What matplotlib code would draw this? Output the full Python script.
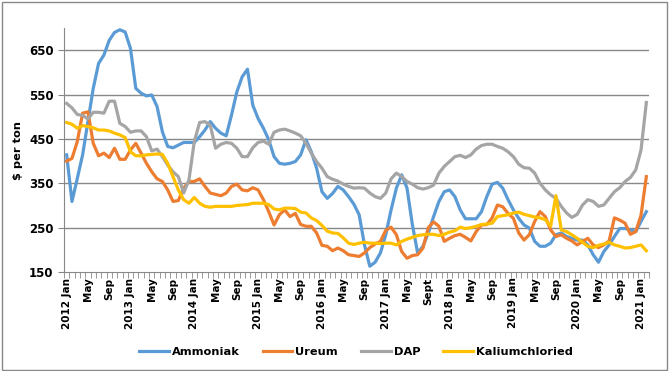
import matplotlib
matplotlib.use('Agg')
import matplotlib.pyplot as plt
from matplotlib.patches import Rectangle
import numpy as np

# maandprijzen jan 2012 - feb 2021, $ per ton
ammoniak = [414, 309, 361, 414, 489, 564, 620, 639, 672, 690, 696, 691, 654, 564, 553, 547, 549, 523, 466, 433, 430, 436, 442, 442, 442, 455, 470,
            489, 474, 463, 457, 504, 556, 590, 607, 526, 496, 474, 448, 410, 395, 393, 395, 399, 414, 448, 421, 384, 331, 316, 327, 343, 335, 320, 303,
            279, 211, 163, 172, 193, 234, 290, 339, 369, 339, 257, 193, 208, 238, 275, 309, 331, 335, 320, 290, 270, 270, 270, 286, 320, 348, 352,
            339, 313, 290, 271, 256, 249, 219, 208, 208, 215, 234, 238, 230, 226, 222, 222, 211, 189, 172, 196, 211, 230, 248, 248, 245, 241, 264, 286]
ureum = [400, 406, 444, 508, 511, 440, 412, 418, 408, 429, 404, 404, 425, 440, 418, 395, 376, 360, 354, 335, 309, 311, 339, 354, 354, 360, 343,
         328, 325, 322, 328, 343, 348, 335, 333, 340, 335, 313, 286, 256, 279, 290, 275, 282, 257, 253, 253, 238, 210, 208, 198, 204, 198, 189, 187,
         185, 193, 205, 213, 219, 244, 251, 234, 196, 181, 187, 189, 204, 250, 263, 253, 219, 226, 232, 235, 228, 220, 241, 256, 257, 272, 301,
         297, 282, 271, 238, 222, 234, 264, 286, 275, 245, 230, 234, 226, 220, 211, 219, 226, 211, 205, 211, 220, 272, 267, 260, 235, 241, 278, 365]
dap = [530, 520, 505, 503, 495, 510, 510, 508, 535, 535, 485, 478, 465, 468, 468, 455, 423, 427, 410, 391, 376, 365, 328, 358, 444, 487, 489,
       481, 429, 438, 442, 440, 429, 410, 410, 430, 442, 445, 438, 465, 470, 472, 468, 463, 457, 440, 418, 399, 384, 365, 359, 355, 348, 343, 339,
       340, 339, 328, 320, 316, 328, 360, 373, 365, 354, 348, 340, 337, 340, 346, 373, 388, 399, 410, 413, 408, 414, 427, 435, 438, 438, 433,
       429, 421, 410, 393, 385, 384, 373, 350, 335, 324, 316, 298, 283, 273, 280, 301, 313, 309, 298, 301, 316, 331, 340, 354, 363, 380, 425, 532]
kaliumchloried = [487, 483, 474, 480, 478, 475, 470, 470, 468, 463, 459, 453, 421, 412, 412, 414, 415, 416, 415, 395, 365, 335, 313, 305, 318, 305, 298,
                  296, 298, 298, 298, 298, 300, 301, 302, 305, 305, 305, 302, 292, 290, 294, 294, 293, 285, 283, 272, 266, 255, 242, 238, 237, 227, 215, 212,
                  215, 217, 215, 215, 214, 215, 215, 211, 219, 224, 228, 232, 234, 235, 235, 232, 235, 240, 243, 251, 248, 250, 253, 257, 258, 260, 275,
                  277, 279, 283, 285, 280, 277, 274, 272, 268, 253, 322, 245, 241, 234, 226, 217, 208, 205, 210, 213, 217, 211, 208, 204, 205, 208, 211, 198]

tick_labels = ['2012 Jan', 'May', 'Sep', '2013 Jan', 'May', 'Sep', '2014 Jan', 'May', 'Sep',
               '2015 Jan', 'May', 'Sep', '2016 Jan', 'May', 'Sep', '2017 Jan', 'May', 'Sept',
               '2018 Jan', 'May', 'Sep', '2019 Jan', 'May', 'Sep', '2020 Jan', 'May', 'Sep', '2021 Jan']

x = np.arange(len(ammoniak))
fs = 7.5

fig = plt.figure(figsize=(6.7, 3.71), dpi=100)
ax = fig.add_axes([64/670, 1-272/371, 585/670, 244/371])

ax.plot(x, ammoniak, color='#5B9BD5', lw=2.3, label='Ammoniak')
ax.plot(x, ureum, color='#ED7D31', lw=2.3, label='Ureum')
ax.plot(x, dap, color='#A5A5A5', lw=2.3, label='DAP')
ax.plot(x, kaliumchloried, color='#FFC000', lw=2.3, label='Kaliumchloried')

ax.set_xlim(-0.5, len(x) - 0.5)
ax.set_ylim(150, 700)
ax.set_yticks(range(150, 651, 100))
for t in range(250, 651, 100):
    ax.axhline(t, color='#888888', lw=1, zorder=0)

ax.set_xticks(range(0, len(x), 4))
ax.set_xticklabels(tick_labels, rotation=90, fontsize=fs, fontweight='bold')
ax.set_xticks(np.arange(-0.5, len(x), 1), minor=True)
ax.tick_params(axis='x', which='major', length=0, pad=4)
ax.tick_params(axis='x', which='minor', length=4, color='#888888')
ax.tick_params(axis='y', length=4, color='#888888', labelsize=fs + 1)
for lab in ax.get_yticklabels():
    lab.set_fontweight('bold')

for s in ['top', 'right']:
    ax.spines[s].set_visible(False)
for s in ['left', 'bottom']:
    ax.spines[s].set_color('#888888')

fig.text(18/670, 1-151/371, '$ per ton', rotation=90, ha='center', va='center',
         fontsize=fs + 0.7, fontweight='bold')

fig.legend(loc='center', bbox_to_anchor=(356/670, 1-352/371), ncol=4, frameon=False,
           prop={'size': 8.2, 'weight': 'bold'}, handlelength=2.6, handletextpad=0.27,
           columnspacing=2.0)

fig.patches.append(Rectangle((0.003, 0.004), 0.993, 0.99, transform=fig.transFigure,
                             fill=False, edgecolor='#888888', lw=1))

fig.savefig('out.png', dpi=100)
